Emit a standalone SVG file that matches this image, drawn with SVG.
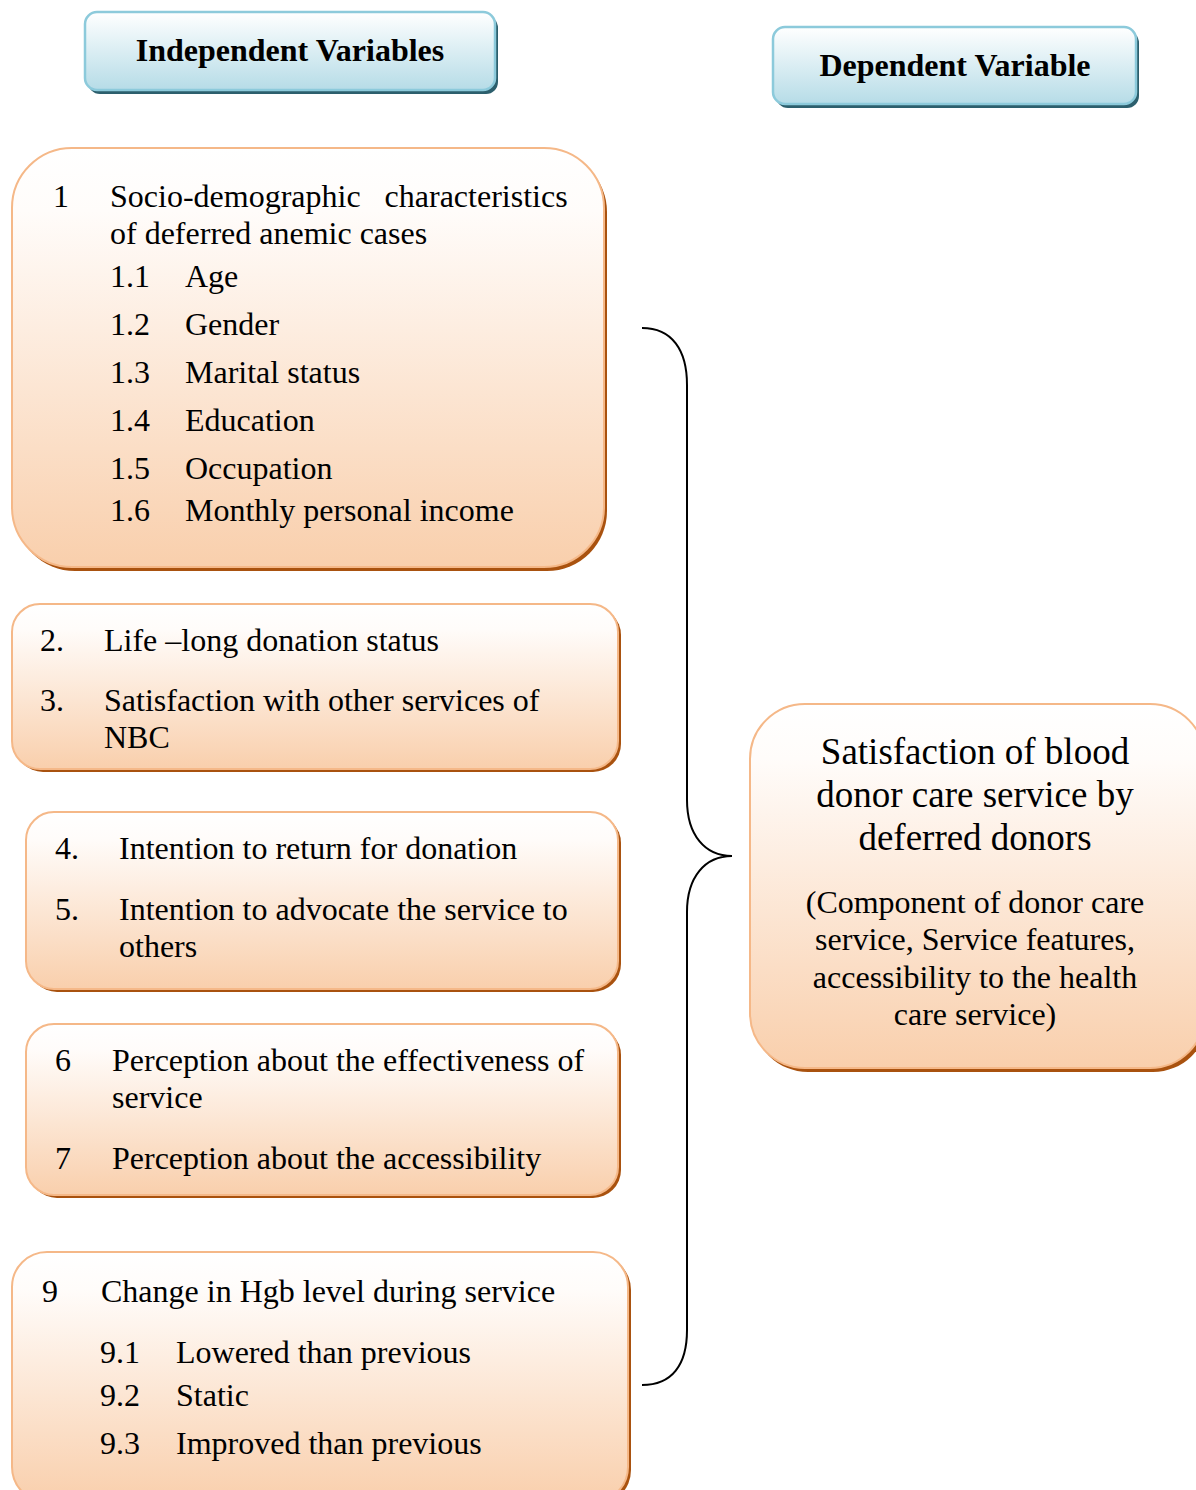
<svg xmlns="http://www.w3.org/2000/svg" width="1196" height="1490" viewBox="0 0 1196 1490">
<defs>
<linearGradient id="gO" x1="0" y1="0" x2="0" y2="1">
<stop offset="0" stop-color="#ffffff"/>
<stop offset="0.15" stop-color="#fffcfa"/>
<stop offset="1" stop-color="#f9cfac"/>
</linearGradient>
<linearGradient id="gB" x1="0" y1="0" x2="0" y2="1">
<stop offset="0" stop-color="#ffffff"/>
<stop offset="1" stop-color="#b6dce7"/>
</linearGradient>
<style>
.ob{fill:url(#gO);stroke:#f5b888;stroke-width:2}
.os{fill:#a9520f}
.bb{fill:url(#gB);stroke:#8ccadb;stroke-width:2.5}
.bs{fill:#2c5f6d}
text{font-family:"Liberation Serif","Times New Roman",serif;fill:#000}
.t{font-size:32px}
.h{font-size:32px;font-weight:bold;text-anchor:middle}
.big{font-size:37px;text-anchor:middle}
.mid{font-size:32px;text-anchor:middle}
.br{fill:none;stroke:#000;stroke-width:2}
</style>
</defs>

<g id="header-independent">
<rect class="bs" x="88" y="16" width="410" height="78" rx="12"/>
<rect class="bb" x="85" y="12" width="410" height="78" rx="12"/>
<text class="h" x="290" y="61">Independent Variables</text>
</g>

<g id="header-dependent">
<rect class="bs" x="776" y="31" width="363" height="77" rx="12"/>
<rect class="bb" x="773" y="27" width="363" height="77" rx="12"/>
<text class="h" x="955" y="76">Dependent Variable</text>
</g>

<g id="box-sociodemographic">
<rect class="os" x="15" y="152" width="592" height="419" rx="60"/>
<rect class="ob" x="12" y="148" width="592" height="419" rx="60"/>
<text class="t" x="53" y="207">1</text>
<text class="t" x="110" y="207" xml:space="preserve">Socio-demographic   characteristics</text>
<text class="t" x="110" y="244">of deferred anemic cases</text>
<text class="t" x="110" y="287">1.1</text><text class="t" x="185" y="287">Age</text>
<text class="t" x="110" y="335">1.2</text><text class="t" x="185" y="335">Gender</text>
<text class="t" x="110" y="383">1.3</text><text class="t" x="185" y="383">Marital status</text>
<text class="t" x="110" y="431">1.4</text><text class="t" x="185" y="431">Education</text>
<text class="t" x="110" y="479">1.5</text><text class="t" x="185" y="479">Occupation</text>
<text class="t" x="110" y="521">1.6</text><text class="t" x="185" y="521">Monthly personal income</text>
</g>

<g id="box-donation-status">
<rect class="os" x="15" y="607" width="606" height="165" rx="28"/>
<rect class="ob" x="12" y="604" width="606" height="165" rx="28"/>
<text class="t" x="40" y="651">2.</text><text class="t" x="104" y="651">Life –long donation status</text>
<text class="t" x="40" y="711">3.</text><text class="t" x="104" y="711">Satisfaction with other services of</text>
<text class="t" x="104" y="748">NBC</text>
</g>

<g id="box-intention">
<rect class="os" x="29" y="815" width="592" height="177" rx="28"/>
<rect class="ob" x="26" y="812" width="592" height="177" rx="28"/>
<text class="t" x="55" y="859">4.</text><text class="t" x="119" y="859">Intention to return for donation</text>
<text class="t" x="55" y="920">5.</text><text class="t" x="119" y="920">Intention to advocate the service to</text>
<text class="t" x="119" y="957">others</text>
</g>

<g id="box-perception">
<rect class="os" x="29" y="1027" width="592" height="171" rx="28"/>
<rect class="ob" x="26" y="1024" width="592" height="171" rx="28"/>
<text class="t" x="55" y="1071">6</text><text class="t" x="112" y="1071">Perception about the effectiveness of</text>
<text class="t" x="112" y="1108">service</text>
<text class="t" x="55" y="1169">7</text><text class="t" x="112" y="1169">Perception about the accessibility</text>
</g>

<g id="box-hgb">
<rect class="os" x="15" y="1255" width="616" height="250" rx="35"/>
<rect class="ob" x="12" y="1252" width="616" height="250" rx="35"/>
<text class="t" x="42" y="1302">9</text><text class="t" x="101" y="1302">Change in Hgb level during service</text>
<text class="t" x="100" y="1363">9.1</text><text class="t" x="176" y="1363">Lowered than previous</text>
<text class="t" x="100" y="1406">9.2</text><text class="t" x="176" y="1406">Static</text>
<text class="t" x="100" y="1454">9.3</text><text class="t" x="176" y="1454">Improved than previous</text>
</g>

<g id="box-dependent">
<rect class="os" x="753" y="708" width="455" height="364" rx="55"/>
<rect class="ob" x="750" y="704" width="455" height="364" rx="55"/>
<text class="big" x="975" y="764">Satisfaction of blood</text>
<text class="big" x="975" y="807">donor care service by</text>
<text class="big" x="975" y="850">deferred donors</text>
<text class="mid" x="975" y="913">(Component of donor care</text>
<text class="mid" x="975" y="950">service, Service features,</text>
<text class="mid" x="975" y="988">accessibility to the health</text>
<text class="mid" x="975" y="1025">care service)</text>
</g>

<g id="connectors">
<path class="br" d="M642,328 C672,328 687,350 687,385 L687,800 C687,835 705,856 732,856 C705,856 687,877 687,912 L687,1330 C687,1365 672,1385 642,1385"/>
</g>
</svg>
